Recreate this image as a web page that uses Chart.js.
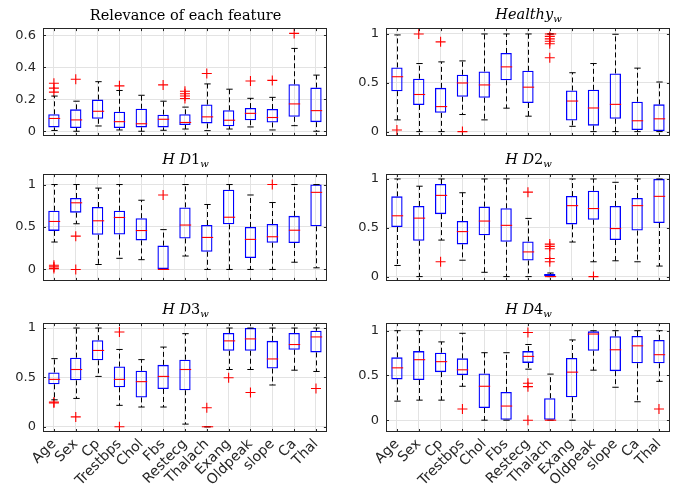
<!DOCTYPE html>
<html><head><meta charset="utf-8">
<script src="https://cdn.jsdelivr.net/npm/chart.js@4.4.0/dist/chart.umd.min.js"></script>
<style>
html,body{margin:0;padding:0;background:#fff;}
#wrap{position:relative;width:690px;height:491px;overflow:hidden;background:#fff;}
canvas{position:absolute;}
.ttl{position:absolute;font-family:"DejaVu Serif",serif;font-size:14.5px;color:#000;white-space:nowrap;transform:translate(-50%,-50%);line-height:1;}
.ttl sub{font-size:10px;vertical-align:-3px;font-style:italic;}
</style></head><body><div id="wrap"></div>
<script>
const features = ['Age','Sex','Cp','Trestbps','Chol','Fbs','Restecg','Thalach','Exang','Oldpeak','slope','Ca','Thal'];
const relevanceTicks = [0,0.2,0.4,0.6];
const unitTicks = [0,0.5,1];

const relevanceLo  = [0.005,0,0.033,0.008,0,0.006,0.014,0.004,0.014,0.027,0.008,0.035,0];
const relevanceQ1  = [0.024,0.02,0.078,0.02,0.024,0.024,0.039,0.049,0.031,0.069,0.055,0.09,0.057];
const relevanceMed = [0.08,0.071,0.125,0.06,0.047,0.075,0.055,0.09,0.069,0.112,0.086,0.171,0.129];
const relevanceQ3  = [0.106,0.137,0.198,0.122,0.141,0.104,0.106,0.167,0.131,0.145,0.139,0.294,0.273];
const relevanceHi  = [0.22,0.188,0.31,0.255,0.225,0.188,0.151,0.296,0.263,0.206,0.212,0.518,0.351];
const relevanceOut = [[0.30,0.27,0.245],[0.325],[],[0.284],[],[0.29],[0.25,0.235,0.22,0.205],[0.361],[],[0.314],[0.318],[0.612],[]];

const healthyLo  = [0.12,0,0,0.175,0.12,0.24,0.158,1,0.054,0,0,0,0];
const healthyQ1  = [0.414,0.273,0.192,0.357,0.347,0.525,0.293,1,0.114,0.061,0.131,0.017,0];
const healthyMed = [0.562,0.38,0.256,0.498,0.478,0.663,0.455,1,0.313,0.242,0.279,0.111,0.131];
const healthyQ3  = [0.657,0.542,0.448,0.582,0.616,0.805,0.623,1,0.421,0.428,0.596,0.306,0.279];
const healthyHi  = [0.99,0.697,0.714,0.724,1,1,1,1,0.603,0.697,0.997,0.65,0.508];
const healthyOut = [[0.017],[1.0],[0.919],[0],[],[],[],[0.975,0.95,0.925,0.9,0.757],[],[],[],[],[]];

const hd1Lo  = [0.323,0.538,0.058,0.131,0.115,0,0.158,0,0,0,0,0.085,0.019];
const hd1Q1  = [0.454,0.669,0.408,0.412,0.342,0,0.365,0.208,0.531,0.135,0.315,0.312,0.508];
const hd1Med = [0.565,0.785,0.573,0.612,0.458,0,0.523,0.377,0.615,0.354,0.385,0.462,0.908];
const hd1Q3  = [0.692,0.842,0.735,0.692,0.604,0.281,0.731,0.523,0.938,0.5,0.535,0.631,1];
const hd1Hi  = [1,1,0.958,1,0.815,0.469,1,0.765,1,0.877,0.788,1,1];
const hd1Out = [[0.05,0.03,0.01],[0.392,0],[],[],[],[0.877],[],[],[],[],[1.0],[],[]];

const hd2Lo  = [0.114,0,0.374,0.168,0.044,0,0,0,0.354,0.152,0.162,0.152,0.108];
const hd2Q1  = [0.508,0.367,0.64,0.33,0.424,0.357,0.165,0,0.535,0.582,0.374,0.471,0.549];
const hd2Med = [0.623,0.599,0.832,0.461,0.569,0.525,0.253,0,0.727,0.697,0.492,0.727,0.822];
const hd2Q3  = [0.822,0.724,0.949,0.569,0.717,0.7,0.36,0.027,0.825,0.879,0.724,0.805,1];
const hd2Hi  = [1,0.926,1,0.859,1,1,0.596,0.037,1,1,0.966,1,1];
const hd2Out = [[],[],[0.152],[],[],[],[0.865],[0.333,0.31,0.286,0.185,0.152],[],[0],[],[],[]];

const hd3Lo  = [0.273,0.287,0.51,0.217,0.2,0.2,0.027,0,0.58,0.58,0.423,0.573,0.56];
const hd3Q1  = [0.43,0.47,0.673,0.4,0.297,0.383,0.37,0,0.77,0.77,0.59,0.78,0.753];
const hd3Med = [0.48,0.58,0.773,0.48,0.457,0.51,0.58,0,0.87,0.89,0.687,0.833,0.91];
const hd3Q3  = [0.55,0.7,0.877,0.61,0.567,0.627,0.68,0,0.95,1,0.87,0.95,0.973];
const hd3Hi  = [0.69,1,1,0.783,0.68,0.807,0.943,0,1,1,1,1,1];
const hd3Out = [[0.25,0.24],[0.1],[],[0.96,0],[],[],[],[0.193],[0.497],[0.347],[],[],[0.387]];

const hd4Lo  = [0.213,0.224,0.224,0.379,0,0,0.57,0,0,0.559,0.368,0.206,0.434];
const hd4Q1  = [0.456,0.449,0.537,0.504,0.136,0,0.64,0,0.257,0.776,0.548,0.636,0.636];
const hd4Med = [0.585,0.676,0.654,0.563,0.379,0.158,0.713,0,0.537,0.963,0.787,0.831,0.732];
const hd4Q3  = [0.702,0.772,0.754,0.691,0.522,0.316,0.772,0.246,0.695,0.993,0.9375,0.941,0.897];
const hd4Hi  = [1,1,0.875,0.971,0.754,0.754,0.846,0.515,0.897,1,1,1,1];
const hd4Out = [[],[],[],[0.125],[],[],[0.98,0.412,0.375,0],[],[],[],[],[],[0.125]];

const panels = [
  {title:'Relevance of each feature', lo:relevanceLo,q1:relevanceQ1,med:relevanceMed,q3:relevanceQ3,hi:relevanceHi,out:relevanceOut,ticks:relevanceTicks,min:-0.029,max:0.645,col:0,row:0},
  {title:'<i>Healthy</i><sub>w</sub>', lo:healthyLo,q1:healthyQ1,med:healthyMed,q3:healthyQ3,hi:healthyHi,out:healthyOut,ticks:unitTicks,min:-0.044,max:1.06,col:1,row:0},
  {title:'<i>H D</i>1<sub>w</sub>', lo:hd1Lo,q1:hd1Q1,med:hd1Med,q3:hd1Q3,hi:hd1Hi,out:hd1Out,ticks:unitTicks,min:-0.135,max:1.123,col:0,row:1},
  {title:'<i>H D</i>2<sub>w</sub>', lo:hd2Lo,q1:hd2Q1,med:hd2Med,q3:hd2Q3,hi:hd2Hi,out:hd2Out,ticks:unitTicks,min:-0.044,max:1.05,col:1,row:1},
  {title:'<i>H D</i>3<sub>w</sub>', lo:hd3Lo,q1:hd3Q1,med:hd3Med,q3:hd3Q3,hi:hd3Hi,out:hd3Out,ticks:unitTicks,min:-0.053,max:1.05,col:0,row:2},
  {title:'<i>H D</i>4<sub>w</sub>', lo:hd4Lo,q1:hd4Q1,med:hd4Med,q3:hd4Q3,hi:hd4Hi,out:hd4Out,ticks:unitTicks,min:-0.132,max:1.085,col:1,row:2}
];

const colLeft = [43, 386], plotW = 285;
const rowTop = [27, 173, 322], plotH = [110, 109, 110];
const titleY = [15, 160, 310];
const YW = 43, PAD = 5, XH = 58;
const TXT = '#262626';

function makeBoxExtras(p){
  return {
    id:'boxExtras',
    beforeDraw(chart){
      const c = chart.ctx; c.save(); c.fillStyle='#fff'; c.fillRect(0,0,chart.width,chart.height); c.restore();
    },
    afterDatasetsDraw(chart){
      const ys = chart.scales.y;
      const meta = chart.getDatasetMeta(0);
      const c = chart.ctx;
      c.save();
      meta.data.forEach((bar,i)=>{
        const x = Math.round(bar.x)+0.5, w = bar.width;
        const yLo = ys.getPixelForValue(p.lo[i]), yQ1 = ys.getPixelForValue(p.q1[i]);
        const yQ3 = ys.getPixelForValue(p.q3[i]), yHi = ys.getPixelForValue(p.hi[i]);
        const yMed = ys.getPixelForValue(p.med[i]);
        c.strokeStyle = '#000'; c.lineWidth = 1;
        c.setLineDash([5,3]);
        c.beginPath();
        if (yHi < yQ3) { c.moveTo(x, yQ3); c.lineTo(x, yHi); }
        if (yLo > yQ1) { c.moveTo(x, yQ1); c.lineTo(x, yLo); }
        c.stroke();
        c.setLineDash([]);
        const cw = w*0.28;
        c.beginPath();
        c.moveTo(x-cw, yHi); c.lineTo(x+cw, yHi);
        c.moveTo(x-cw, yLo); c.lineTo(x+cw, yLo);
        c.stroke();
        c.strokeStyle = '#ff0000'; c.lineWidth = 1.1;
        c.beginPath(); c.moveTo(x-w/2, yMed); c.lineTo(x+w/2, yMed); c.stroke();
      });
      c.restore();
    },
    afterDraw(chart){
      const a = chart.chartArea, c = chart.ctx;
      c.save();
      c.strokeStyle = TXT; c.lineWidth = 1;
      c.strokeRect(Math.round(a.left)+0.5, Math.round(a.top)+0.5, Math.round(a.right-a.left)-1, Math.round(a.bottom-a.top)-1);
      c.beginPath();
      const xs = chart.scales.x, ys = chart.scales.y;
      for (let i=0;i<features.length;i++){
        const x = Math.round(xs.getPixelForValue(i))+0.5;
        c.moveTo(x, a.top); c.lineTo(x, a.top+3);
        c.moveTo(x, a.bottom); c.lineTo(x, a.bottom-3);
      }
      p.ticks.forEach(v=>{
        const y = Math.round(ys.getPixelForValue(v))+0.5;
        c.moveTo(a.left, y); c.lineTo(a.left+3, y);
        c.moveTo(a.right, y); c.lineTo(a.right-3, y);
      });
      c.stroke();
      c.restore();
    }
  };
}

const wrap = document.getElementById('wrap');
panels.forEach(p=>{
  const showX = p.row === 2;
  const left = colLeft[p.col] - YW;
  const top = rowTop[p.row] - PAD;
  const W = YW + plotW + PAD;
  const H = PAD + plotH[p.row] + (showX ? XH : PAD);
  const cv = document.createElement('canvas');
  cv.width = W; cv.height = H;
  cv.style.left = left+'px'; cv.style.top = top+'px';
  cv.style.width = W+'px'; cv.style.height = H+'px';
  wrap.appendChild(cv);
  const t = document.createElement('div');
  t.className = 'ttl'; t.innerHTML = p.title;
  t.style.left = (colLeft[p.col] + plotW/2)+'px'; t.style.top = titleY[p.row]+'px';
  wrap.appendChild(t);

  const outPts = [];
  p.out.forEach((arr,i)=>arr.forEach(v=>outPts.push({x:features[i], y:v})));

  new Chart(cv, {
    type:'bar',
    data:{
      labels: features,
      datasets:[
        {type:'bar', data: p.q1.map((v,i)=>[v, p.q3[i]]), backgroundColor:'rgba(0,0,0,0)', borderColor:'#0000ff', borderWidth:1.3, borderSkipped:false, barPercentage:0.52, categoryPercentage:1},
        {type:'scatter', data: outPts, pointStyle:'cross', radius:5, borderColor:'#ff0000', backgroundColor:'#ff0000', borderWidth:1.1, showLine:false}
      ]
    },
    options:{
      responsive:false, animation:false, devicePixelRatio:1,
      layout:{padding:{top:PAD, right:PAD, left:0, bottom: showX?0:PAD}},
      plugins:{legend:{display:false}, tooltip:{enabled:false}, title:{display:false}},
      scales:{
        x:{type:'category', offset:true,
          grid:{offset:false, color:'#e3e3e3', drawTicks:false},
          border:{display:false},
          ticks:{display:showX, minRotation:45, maxRotation:45, autoSkip:false, padding:4, color:TXT, font:{family:'DejaVu Sans', size:14}},
          afterFit(s){ s.height = showX ? XH : 0; s.paddingLeft = 0; s.paddingRight = 0; }
        },
        y:{type:'linear', min:p.min, max:p.max,
          grid:{color:'#e3e3e3', drawTicks:false},
          border:{display:false},
          afterBuildTicks(s){ s.ticks = p.ticks.map(v=>({value:v})); },
          ticks:{padding:7, color:TXT, font:{family:'DejaVu Sans', size:13}, callback:v=>String(v)},
          afterFit(s){ s.width = YW; s.paddingTop = 0; s.paddingBottom = 0; }
        }
      }
    },
    plugins:[makeBoxExtras(p)]
  });
});
</script>
</body></html>
